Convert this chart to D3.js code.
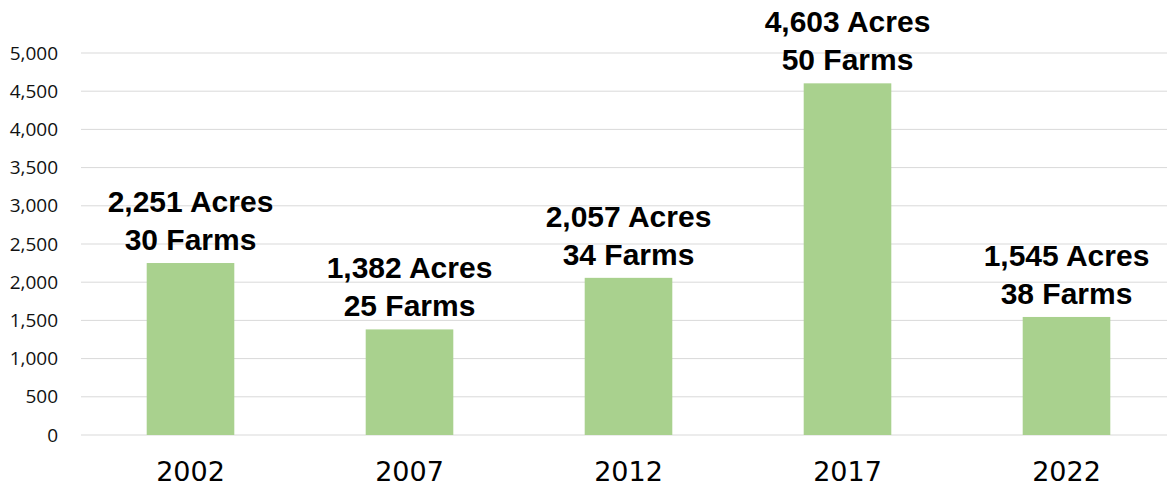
<!DOCTYPE html>
<html><head><meta charset="utf-8">
<script src="https://cdn.jsdelivr.net/npm/d3@7"></script>
<style>body{margin:0;background:#fff}svg{display:block}</style>
</head><body>
<svg id="c" width="1167" height="489"></svg>
<script>
const years = ["2002","2007","2012","2017","2022"];
const acres = [2251,1382,2057,4603,1545];
const farms = [30,25,34,50,38];
const yTicks = [0,500,1000,1500,2000,2500,3000,3500,4000,4500,5000];

const svg = d3.select("#c");
const x = d3.scaleBand().domain(years).range([81,1176]).paddingInner(0.6).paddingOuter(0.3);
const y = d3.scaleLinear().domain([0,5000]).range([435,53]);

// gridlines
svg.append("g").selectAll("line").data(yTicks).join("line")
  .attr("x1",81).attr("x2",1167)
  .attr("y1",d=>y(d)).attr("y2",d=>y(d))
  .attr("stroke","#d9d9d9").attr("stroke-width",1);

// y axis
const yAxis = d3.axisLeft(y).tickValues(yTicks).tickFormat(d3.format(",")).tickSize(0).tickPadding(0);
const ya = svg.append("g").attr("transform","translate(58,0)").call(yAxis);
ya.select(".domain").remove();
ya.selectAll("text").attr("font-family","'Open Sans', sans-serif").attr("font-size",19).attr("fill","#111");

// bars
svg.append("g").selectAll("rect").data(years).join("rect")
  .attr("x",d=>x(d)).attr("width",x.bandwidth())
  .attr("y",(d,i)=>y(acres[i])).attr("height",(d,i)=>y(0)-y(acres[i]))
  .attr("fill","#A9D18E");

// x axis
const xAxis = d3.axisBottom(x).tickSize(0).tickPadding(0);
const xa = svg.append("g").attr("transform","translate(0,481)").call(xAxis);
xa.select(".domain").remove();
xa.selectAll("text").attr("dy",0).attr("font-family","'DejaVu Sans', sans-serif").attr("font-size",27).attr("fill","#000");

// labels
const lab = svg.append("g").attr("font-family","'Liberation Sans', Arial, sans-serif").attr("font-weight","bold").attr("font-size",30).attr("text-anchor","middle").attr("fill","#000");
lab.selectAll("text.a").data(years).join("text").attr("class","a")
  .attr("x",d=>x(d)+x.bandwidth()/2).attr("y",(d,i)=>y(acres[i])-51)
  .text((d,i)=>d3.format(",")(acres[i])+" Acres");
lab.selectAll("text.f").data(years).join("text").attr("class","f")
  .attr("x",d=>x(d)+x.bandwidth()/2).attr("y",(d,i)=>y(acres[i])-13)
  .text((d,i)=>farms[i]+" Farms");
</script>
</body></html>
